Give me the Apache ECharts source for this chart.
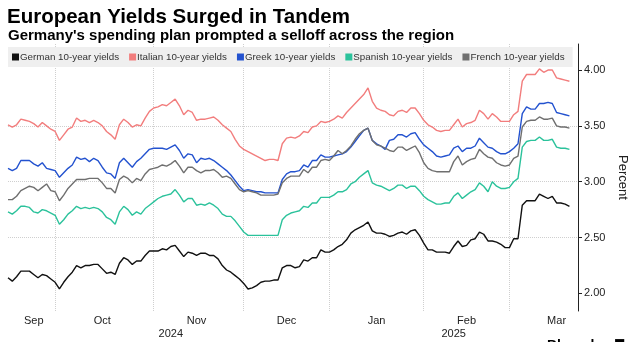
<!DOCTYPE html>
<html><head><meta charset="utf-8">
<script src="https://cdn.jsdelivr.net/npm/echarts@6/dist/echarts.min.js"></script>
<style>html,body{margin:0;padding:0;background:#fff}#c{width:631px;height:342px}</style>
</head><body><div id="c"></div>
<script>
// Trading-day categories
const startDate = '2024-09-16';
const endDate = '2025-03-25';
const holidays = ['2024-12-25', '2024-12-26', '2025-01-01'];

const seriesNames = ['German 10-year yields', 'Italian 10-year yields', 'Greek 10-year yields', 'Spanish 10-year yields', 'French 10-year yields'];

const german = [2.14,2.11,2.15,2.20,2.20,2.20,2.17,2.14,2.17,2.16,
2.13,2.10,2.04,2.10,2.15,2.19,2.25,2.23,2.25,2.25,
2.26,2.26,2.22,2.18,2.19,2.17,2.27,2.32,2.30,2.26,
2.29,2.29,2.34,2.38,2.38,2.38,2.40,2.39,2.42,2.43,
2.38,2.33,2.37,2.36,2.34,2.36,2.36,2.34,2.34,2.31,
2.25,2.21,2.19,2.16,2.13,2.09,2.04,2.05,2.07,2.10,
2.11,2.11,2.12,2.12,2.23,2.25,2.25,2.23,2.24,2.30,
2.29,2.32,2.32,2.39,2.37,2.37,2.39,2.42,2.44,2.48,
2.54,2.57,2.59,2.61,2.64,2.56,2.54,2.54,2.53,2.51,
2.52,2.54,2.55,2.53,2.56,2.57,2.52,2.45,2.39,2.39,
2.37,2.37,2.37,2.36,2.42,2.47,2.42,2.43,2.48,2.49,
2.55,2.53,2.47,2.47,2.46,2.44,2.41,2.41,2.49,2.49,
2.79,2.83,2.83,2.83,2.89,2.87,2.85,2.87,2.81,2.81,
2.80,2.78];

const italian = [3.51,3.49,3.51,3.56,3.55,3.54,3.52,3.49,3.53,3.50,
3.47,3.45,3.37,3.42,3.47,3.49,3.57,3.54,3.55,3.53,
3.55,3.53,3.50,3.45,3.42,3.38,3.51,3.56,3.53,3.49,
3.51,3.50,3.57,3.63,3.66,3.67,3.69,3.68,3.71,3.74,
3.68,3.60,3.64,3.62,3.55,3.56,3.56,3.57,3.58,3.55,
3.51,3.48,3.45,3.38,3.32,3.29,3.27,3.25,3.23,3.21,
3.19,3.20,3.20,3.19,3.34,3.39,3.40,3.39,3.41,3.45,
3.44,3.49,3.50,3.54,3.53,3.54,3.56,3.59,3.57,3.62,
3.66,3.70,3.74,3.78,3.84,3.72,3.66,3.64,3.63,3.60,
3.59,3.63,3.64,3.62,3.66,3.66,3.61,3.55,3.51,3.49,
3.46,3.45,3.46,3.46,3.51,3.56,3.49,3.52,3.53,3.55,
3.64,3.61,3.56,3.61,3.58,3.54,3.54,3.54,3.60,3.63,
3.90,3.96,3.96,3.96,4.01,3.98,4.00,4.00,3.93,3.92,
3.91,3.90];

const greek = [3.12,3.10,3.12,3.19,3.19,3.19,3.16,3.14,3.17,3.12,
3.11,3.10,3.04,3.08,3.12,3.15,3.22,3.20,3.21,3.18,
3.21,3.19,3.13,3.08,3.07,3.03,3.17,3.21,3.17,3.13,
3.18,3.21,3.25,3.29,3.30,3.30,3.30,3.29,3.31,3.33,
3.28,3.21,3.25,3.24,3.17,3.21,3.20,3.21,3.19,3.16,
3.13,3.10,3.06,3.01,2.96,2.92,2.93,2.92,2.91,2.91,
2.90,2.90,2.90,2.90,3.02,3.07,3.09,3.09,3.10,3.15,
3.13,3.19,3.19,3.24,3.22,3.22,3.23,3.24,3.25,3.27,
3.31,3.36,3.41,3.46,3.48,3.37,3.34,3.32,3.29,3.37,
3.38,3.42,3.42,3.40,3.43,3.44,3.38,3.33,3.30,3.27,
3.23,3.22,3.23,3.24,3.30,3.32,3.27,3.30,3.30,3.32,
3.39,3.35,3.31,3.30,3.27,3.25,3.25,3.27,3.30,3.34,
3.61,3.67,3.65,3.65,3.70,3.70,3.71,3.70,3.62,3.61,
3.60,3.59];

const spanish = [2.73,2.71,2.74,2.78,2.78,2.77,2.73,2.72,2.75,2.74,
2.72,2.70,2.62,2.66,2.71,2.74,2.78,2.76,2.77,2.76,
2.77,2.76,2.73,2.68,2.66,2.62,2.73,2.78,2.75,2.70,
2.73,2.71,2.76,2.79,2.82,2.85,2.87,2.88,2.89,2.93,
2.88,2.82,2.85,2.85,2.79,2.80,2.79,2.81,2.79,2.76,
2.71,2.69,2.69,2.65,2.60,2.55,2.52,2.52,2.52,2.52,
2.52,2.52,2.52,2.52,2.66,2.70,2.72,2.73,2.74,2.78,
2.77,2.81,2.81,2.86,2.86,2.86,2.88,2.91,2.91,2.93,
2.98,3.00,3.04,3.07,3.10,2.99,2.97,2.96,2.94,2.92,
2.94,2.97,2.97,2.94,2.96,2.96,2.92,2.87,2.84,2.82,
2.80,2.80,2.81,2.81,2.87,2.90,2.85,2.88,2.91,2.93,
2.99,2.96,2.91,3.00,2.96,2.94,2.94,2.95,3.00,3.03,
3.31,3.36,3.37,3.37,3.40,3.37,3.37,3.38,3.31,3.30,
3.30,3.29];

const french = [2.84,2.84,2.87,2.92,2.94,2.96,2.95,2.92,2.95,2.98,
2.92,2.91,2.83,2.88,2.94,2.98,3.02,3.02,3.02,3.03,
3.03,3.03,2.99,2.94,2.94,2.90,3.02,3.05,3.03,2.99,
3.03,3.01,3.07,3.11,3.12,3.13,3.15,3.14,3.16,3.19,
3.14,3.08,3.13,3.13,3.10,3.08,3.10,3.10,3.11,3.08,
3.04,3.05,3.03,2.98,2.93,2.91,2.92,2.91,2.90,2.88,
2.88,2.88,2.88,2.89,2.99,3.03,3.05,3.05,3.05,3.11,
3.08,3.13,3.13,3.19,3.20,3.19,3.23,3.28,3.25,3.28,
3.32,3.38,3.43,3.46,3.48,3.37,3.33,3.32,3.30,3.28,
3.27,3.31,3.31,3.28,3.30,3.32,3.26,3.17,3.12,3.10,
3.09,3.09,3.09,3.09,3.18,3.23,3.15,3.18,3.20,3.21,
3.29,3.25,3.22,3.21,3.17,3.15,3.14,3.15,3.21,3.23,
3.49,3.54,3.55,3.55,3.58,3.56,3.56,3.57,3.50,3.49,
3.49,3.48];

const yTicks = [2.0, 2.5, 3.0, 3.5, 4.0];
const monthLabelDates = ['2024-09-24', '2024-10-16', '2024-11-15', '2024-12-16', '2025-01-17', '2025-02-17', '2025-03-18'];
const monthLabelText = ['Sep', 'Oct', 'Nov', 'Dec', 'Jan', 'Feb', 'Mar'];
const yearLabelDates = ['2024-11-07', '2025-02-12'];
const yearLabelText = ['2024', '2025'];

const colors = ['#111111', '#f27d7d', '#2352cf', '#2bc29b', '#6f6f6f'];
const FONT = 'Liberation Sans';

function tradingDays(start, end, skip) {
  const out = [];
  const d = new Date(start + 'T00:00:00Z');
  const e = new Date(end + 'T00:00:00Z');
  while (d <= e) {
    const wd = d.getUTCDay();
    const s = d.toISOString().slice(0, 10);
    if (wd !== 0 && wd !== 6 && skip.indexOf(s) < 0) out.push(s);
    d.setUTCDate(d.getUTCDate() + 1);
  }
  return out;
}
const dates = tradingDays(startDate, endDate, holidays);
const monthStarts = new Set();
for (let i = 1; i < dates.length; i++) {
  if (dates[i].slice(5, 7) !== dates[i - 1].slice(5, 7)) monthStarts.add(dates[i]);
}

const chart = echarts.init(document.getElementById('c'), null, { renderer: 'canvas' });
const seriesData = [german, italian, greek, spanish, french];

chart.setOption({
  animation: false,
  backgroundColor: '#ffffff',
  color: colors,
  textStyle: { fontFamily: FONT },
  title: [
    { text: 'European Yields Surged in Tandem', left: 7, top: 7, padding: 0,
      textStyle: { fontFamily: FONT, fontWeight: 'bold', fontSize: 20.5, color: '#000' } },
    { text: "Germany's spending plan prompted a selloff across the region", left: 8, top: 28, padding: 0,
      textStyle: { fontFamily: FONT, fontWeight: 'bold', fontSize: 15, color: '#000' } }
  ],
  legend: {
    left: 8, top: 47,
    icon: 'rect', itemWidth: 7, itemHeight: 7, itemGap: 10,
    backgroundColor: '#efefef',
    padding: [5, 8, 5, 4],
    textStyle: { fontFamily: FONT, fontSize: 9.8, color: '#333', padding: [0, 0, 0, -4] },
    data: seriesNames
  },
  grid: { left: 8, right: 53, top: 44, bottom: 31, containLabel: false, outerBoundsMode: 'none' },
  xAxis: [
    {
      type: 'category', data: dates, boundaryGap: false,
      axisLine: { show: false }, axisTick: { show: false },
      splitLine: { show: true, interval: (idx, val) => monthStarts.has(val),
        lineStyle: { color: '#cfcfcf', type: 'dotted', width: 1 } },
      axisLabel: {
        interval: (idx, val) => monthLabelDates.indexOf(val) >= 0,
        formatter: (val) => monthLabelText[monthLabelDates.indexOf(val)],
        margin: 4, fontSize: 11, color: '#222', fontFamily: FONT
      }
    },
    {
      type: 'category', data: dates, boundaryGap: false, position: 'bottom', offset: 13,
      axisLine: { show: false }, axisTick: { show: false }, splitLine: { show: false },
      axisLabel: {
        interval: (idx, val) => yearLabelDates.indexOf(val) >= 0,
        formatter: (val) => yearLabelText[yearLabelDates.indexOf(val)],
        margin: 4, fontSize: 11, color: '#222', fontFamily: FONT
      }
    }
  ],
  yAxis: {
    type: 'value', position: 'right', min: 1.843, max: 4.233,
    name: 'Percent', nameLocation: 'middle', nameRotate: -90, nameGap: 32,
    nameTextStyle: { fontFamily: FONT, fontSize: 13, color: '#222' },
    axisLine: { show: true, lineStyle: { color: '#222', width: 1 } },
    axisTick: { show: true, length: 4, customValues: yTicks, lineStyle: { color: '#222' } },
    axisLabel: { customValues: yTicks, formatter: (v) => v.toFixed(2), margin: 6,
      fontSize: 11, color: '#222', fontFamily: FONT },
    splitLine: { show: true, showMinLine: false, showMaxLine: false,
      lineStyle: { color: '#cfcfcf', type: 'dotted', width: 1 } }
  },
  graphic: [
    { type: 'text', left: 547, top: 339, style: { text: 'Bloomberg', font: 'bold 14px "Liberation Sans"', fill: '#000' } },
    { type: 'text', left: 614, top: 338, style: { text: '■', font: 'bold 12px "DejaVu Sans"', fill: '#000' } }
  ],
  series: seriesNames.map((n, k) => ({
    name: n, type: 'line', data: seriesData[k], showSymbol: false, symbol: 'none',
    lineStyle: { width: 1.4, color: colors[k] }, itemStyle: { color: colors[k] },
    emphasis: { disabled: true }
  }))
});
</script></body></html>
